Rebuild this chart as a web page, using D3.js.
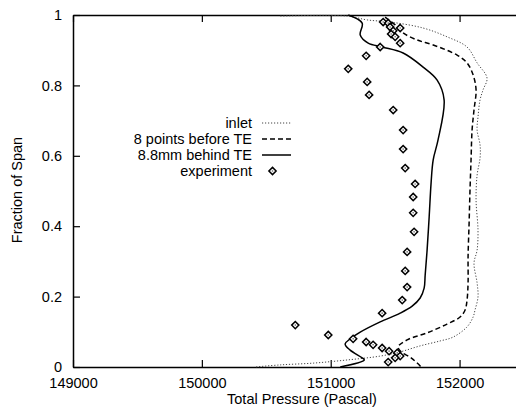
<!DOCTYPE html>
<html>
<head>
<meta charset="utf-8">
<script src="https://cdn.jsdelivr.net/npm/d3@7"></script>
<style>
  html, body { margin: 0; padding: 0; background: #fff; }
  svg { display: block; font-family: "Liberation Sans", Arial, Helvetica, sans-serif; }
</style>
</head>
<body>
<svg id="chart" width="516" height="412"></svg>
<script>
// Total pressure profiles over the span: [pressure (Pa), fraction of span]
const inlet = [
  [150609, 0.997], [151128, 0.997], [151283, 0.986], [151461, 0.980], [151717, 0.963],
  [151903, 0.938], [152058, 0.909], [152136, 0.864], [152213, 0.821], [152182, 0.787],
  [152159, 0.759], [152143, 0.710], [152136, 0.673], [152159, 0.631], [152159, 0.594],
  [152136, 0.545], [152128, 0.474], [152143, 0.389], [152136, 0.332], [152112, 0.295],
  [152136, 0.239], [152143, 0.199], [152120, 0.162], [152105, 0.142], [152058, 0.114],
  [151950, 0.085], [151849, 0.074], [151694, 0.060], [151539, 0.043], [151384, 0.031],
  [151128, 0.020], [150864, 0.011], [150609, 0.006], [150415, 0.000]
];

const beforeTE = [
  [151422, 0.994], [151500, 0.972], [151562, 0.949], [151671, 0.929], [151795, 0.915],
  [151981, 0.886], [152058, 0.864], [152105, 0.830], [152128, 0.787], [152112, 0.730],
  [152097, 0.673], [152089, 0.588], [152081, 0.503], [152074, 0.409], [152066, 0.313],
  [152066, 0.239], [152058, 0.190], [152043, 0.162], [152004, 0.142], [151903, 0.122],
  [151748, 0.097], [151593, 0.077], [151523, 0.057], [151547, 0.043], [151624, 0.026],
  [151694, 0.003], [151700, 0.000]
];

const behindTE = [
  [151136, 1.000], [151244, 0.977], [151229, 0.943], [151291, 0.920], [151399, 0.909],
  [151562, 0.892], [151717, 0.852], [151826, 0.815], [151880, 0.759], [151833, 0.645],
  [151795, 0.588], [151779, 0.523], [151764, 0.426], [151748, 0.332], [151733, 0.261],
  [151725, 0.224], [151694, 0.196], [151632, 0.173], [151539, 0.153], [151384, 0.128],
  [151229, 0.099], [151151, 0.080], [151112, 0.065], [151151, 0.048], [151244, 0.026],
  [151260, 0.020], [151074, 0.000]
];

const experiment = [
  [151407, 0.980], [151446, 0.977], [151461, 0.966], [151485, 0.955], [151469, 0.946],
  [151500, 0.938], [151539, 0.963], [151539, 0.920], [151384, 0.909], [151275, 0.884],
  [151136, 0.847], [151283, 0.810], [151298, 0.773], [151485, 0.730], [151562, 0.673],
  [151562, 0.619], [151578, 0.565], [151655, 0.520], [151640, 0.483], [151640, 0.438],
  [151647, 0.384], [151593, 0.327], [151578, 0.273], [151593, 0.227], [151555, 0.190],
  [151399, 0.153], [150725, 0.119], [150981, 0.091], [151174, 0.080], [151275, 0.071],
  [151329, 0.063], [151399, 0.054], [151453, 0.045], [151516, 0.040], [151539, 0.031],
  [151500, 0.026], [151446, 0.014]
];

const xTicks = [149000, 150000, 151000, 152000];
const xTickLabels = ["149000", "150000", "151000", "152000"];
const yTicks = [0, 0.2, 0.4, 0.6, 0.8, 1];
const yTickLabels = ["0", "0.2", "0.4", "0.6", "0.8", "1"];

const legendNames = ["inlet", "8 points before TE", "8.8mm behind TE", "experiment"];

const svg = d3.select("#chart");
const plotLeft = 73, plotRight = 524, plotTop = 15, plotBottom = 367;

const x = d3.scaleLinear().domain([149000, 152500]).range([plotLeft, plotRight]);
const y = d3.scaleLinear().domain([0, 1]).range([plotBottom, plotTop]);

const font = 14.5;

// axes with inward ticks
const gBottom = svg.append("g").attr("transform", `translate(0,${plotBottom})`)
  .call(d3.axisBottom(x).tickValues(xTicks).tickFormat((d, i) => xTickLabels[i])
    .tickSizeInner(-7).tickSizeOuter(0).tickPadding(11));
const gTop = svg.append("g").attr("transform", `translate(0,${plotTop})`)
  .call(d3.axisTop(x).tickValues(xTicks).tickFormat("")
    .tickSizeInner(-7).tickSizeOuter(0));
const gLeft = svg.append("g").attr("transform", `translate(${plotLeft},0)`)
  .call(d3.axisLeft(y).tickValues(yTicks).tickFormat((d, i) => yTickLabels[i])
    .tickSizeInner(-7).tickSizeOuter(0).tickPadding(11));
const gRight = svg.append("g").attr("transform", `translate(${plotRight},0)`)
  .call(d3.axisRight(y).tickValues(yTicks).tickFormat("")
    .tickSizeInner(-8).tickSizeOuter(0));

[gBottom, gTop, gLeft, gRight].forEach(g => {
  g.select(".domain").attr("stroke", "#000").attr("stroke-width", 1.5);
  g.selectAll(".tick line").attr("stroke", "#000").attr("stroke-width", 1.2);
  g.selectAll(".tick text").attr("fill", "#000").style("font-size", font + "px")
    .style("font-family", '"Liberation Sans", Arial, sans-serif');
});

// axis titles
svg.append("text")
  .attr("x", 302).attr("y", 404)
  .attr("text-anchor", "middle")
  .style("font-size", font + "px")
  .text("Total Pressure (Pascal)");

svg.append("text")
  .attr("transform", "translate(22,190) rotate(-90)")
  .attr("text-anchor", "middle")
  .style("font-size", font + "px")
  .text("Fraction of Span");

// curves
const line = d3.line()
  .x(d => x(d[0])).y(d => y(d[1]))
  .curve(d3.curveCatmullRom.alpha(0.5));

const styles = [
  { data: inlet, stroke: "#444", width: 1, dash: "1.2,1.8" },
  { data: beforeTE, stroke: "#000", width: 1.5, dash: "5,3" },
  { data: behindTE, stroke: "#000", width: 1.5, dash: null }
];

const plot = svg.append("g");

styles.forEach(s => {
  plot.append("path")
    .datum(s.data)
    .attr("d", line)
    .attr("fill", "none")
    .attr("stroke", s.stroke)
    .attr("stroke-width", s.width)
    .attr("stroke-dasharray", s.dash);
});

// experimental points as open diamonds with a small centre dot
const diamond = (cx, cy, r) => `M${cx},${cy - r}L${cx + r},${cy}L${cx},${cy + r}L${cx - r},${cy}Z`;

function drawMarker(g, cx, cy) {
  g.append("path")
    .attr("d", diamond(cx, cy, 3.6))
    .attr("fill", "#fff")
    .attr("stroke", "#000")
    .attr("stroke-width", 1.5);
  g.append("circle")
    .attr("cx", cx).attr("cy", cy).attr("r", 0.8)
    .attr("fill", "#666");
}

const markers = plot.append("g");
experiment.forEach(d => drawMarker(markers, x(d[0]), y(d[1])));

// legend
const legendX = 252, sampleX0 = 262, sampleX1 = 291, legendY0 = 123, legendDy = 16;
legendNames.forEach((name, i) => {
  const ly = legendY0 + i * legendDy;
  svg.append("text")
    .attr("x", legendX).attr("y", ly)
    .attr("dy", "0.35em")
    .attr("text-anchor", "end")
    .style("font-size", font + "px")
    .text(name);
  if (i < 3) {
    const s = styles[i];
    svg.append("line")
      .attr("x1", sampleX0).attr("x2", sampleX1)
      .attr("y1", ly).attr("y2", ly)
      .attr("stroke", s.stroke)
      .attr("stroke-width", s.width)
      .attr("stroke-dasharray", s.dash);
  } else {
    drawMarker(svg, (sampleX0 + sampleX1) / 2 - 4, ly);
  }
});
</script>
</body>
</html>
